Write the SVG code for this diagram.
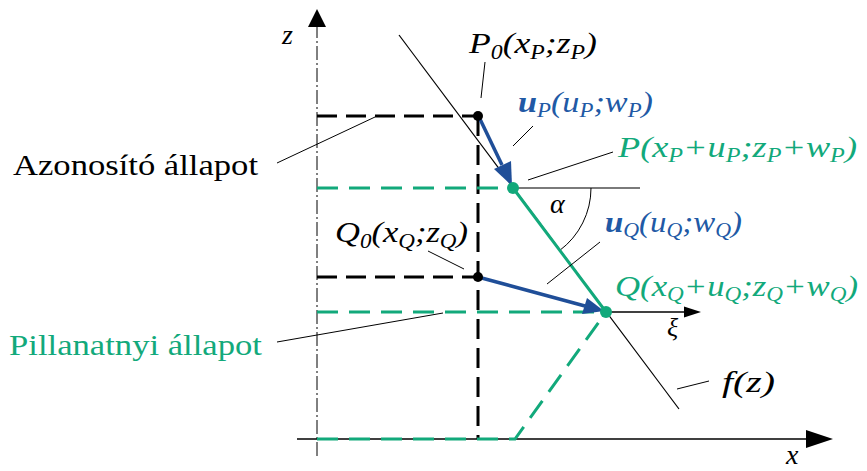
<svg xmlns="http://www.w3.org/2000/svg" width="867" height="471" viewBox="0 0 867 471">
<defs>
<style>
text{font-family:'Liberation Serif',serif}
.m{font-style:italic;font-size:30px}
.r{font-size:30px}
.s{font-size:20px}
.b{font-weight:bold}
.k{fill:#000}
.g{fill:#12a97b}
.bl{fill:#2159a5}
.ld{stroke:#000;stroke-width:1;fill:none}
.dk{stroke:#000;stroke-width:3;stroke-dasharray:20 9;fill:none}
.dg{stroke:#12a97b;stroke-width:3;stroke-dasharray:21 11;fill:none}
.ax{stroke:#000;stroke-width:1.5;fill:none}
.va{stroke:#1f4e98;stroke-width:3.5;fill:none}
</style>
</defs>
<rect width="867" height="471" fill="#fff"/>
<g id="connectors">
<line x1="317" y1="456" x2="317" y2="24" stroke="#000" stroke-width="1" stroke-dasharray="14 3 2 3"/>
<polygon points="317,9 308,27 326,27" fill="#000"/>
<line x1="297" y1="439" x2="808" y2="439" class="ax"/>
<polygon points="833,439 806,430 806,448" fill="#000"/>
<line x1="399" y1="35" x2="679" y2="409" stroke="#000" stroke-width="1.2"/>
<line x1="513" y1="188" x2="640" y2="188" stroke="#7a7a7a" stroke-width="2"/>
<line x1="606" y1="312" x2="686" y2="312" class="ax"/>
<polygon points="701,312 684,306.5 684,317.5" fill="#000"/>
<path d="M591,188 A78,78 0 0 1 559.6,250.5" class="ld"/>
<path d="M317,116 H478" class="dk"/>
<path d="M478,116 V439" class="dk"/>
<path d="M317,277 H478" class="dk"/>
<path d="M317,188 H513" class="dg"/>
<path d="M317,312 H606" class="dg"/>
<path d="M317,439 H515 L606,312" class="dg"/>
<line x1="513" y1="188" x2="606" y2="312" stroke="#12a97b" stroke-width="3"/>
<line x1="479" y1="117" x2="502" y2="165" class="va"/>
<polygon points="512,186 494,169 511,161" fill="#1f4e98"/>
<line x1="478" y1="277" x2="585" y2="306" class="va"/>
<polygon points="604,311 582,314 587,298" fill="#1f4e98"/>
<line x1="277" y1="163" x2="375" y2="117" class="ld"/>
<line x1="485" y1="62" x2="481" y2="98" class="ld"/>
<line x1="533" y1="126" x2="513" y2="146" class="ld"/>
<line x1="613" y1="152" x2="528" y2="180" class="ld"/>
<line x1="600" y1="242" x2="547" y2="284" class="ld"/>
<line x1="428" y1="251" x2="464" y2="269" class="ld"/>
<line x1="277" y1="342" x2="443" y2="313" class="ld"/>
<line x1="677" y1="389" x2="709" y2="381" class="ld"/>
</g>
<g id="P0">
<circle cx="478" cy="116" r="5" fill="#000"/>
<text x="469" y="53" font-family="Liberation Serif" class="m k" textLength="128" lengthAdjust="spacingAndGlyphs">P<tspan class="s" dy="6">0</tspan><tspan dy="-6">(x</tspan><tspan class="s" dy="6">P</tspan><tspan dy="-6">;z</tspan><tspan class="s" dy="6">P</tspan><tspan dy="-6">)</tspan></text>
</g>
<g id="uP">
<text x="518" y="112" font-family="Liberation Serif" class="m bl" textLength="135" lengthAdjust="spacingAndGlyphs"><tspan class="b">u</tspan><tspan class="s" dy="5">P</tspan><tspan dy="-5">(u</tspan><tspan class="s" dy="5">P</tspan><tspan dy="-5">;w</tspan><tspan class="s" dy="5">P</tspan><tspan dy="-5">)</tspan></text>
</g>
<g id="P">
<circle cx="513" cy="188" r="6" fill="#12a97b"/>
<text x="618" y="157" font-family="Liberation Serif" class="m g" textLength="239" lengthAdjust="spacingAndGlyphs">P(x<tspan class="s" dy="5">P</tspan><tspan dy="-5">+u</tspan><tspan class="s" dy="5">P</tspan><tspan dy="-5">;z</tspan><tspan class="s" dy="5">P</tspan><tspan dy="-5">+w</tspan><tspan class="s" dy="5">P</tspan><tspan dy="-5">)</tspan></text>
</g>
<g id="azonosito">
<text x="13" y="175" font-family="Liberation Serif" class="r k" textLength="245" lengthAdjust="spacingAndGlyphs">Azonosító állapot</text>
</g>
<g id="alpha">
<text x="550" y="213" font-family="Liberation Serif" class="m k" style="font-size:28px">α</text>
</g>
<g id="uQ">
<text x="605" y="232" font-family="Liberation Serif" class="m bl" textLength="137" lengthAdjust="spacingAndGlyphs"><tspan class="b">u</tspan><tspan class="s" dy="5">Q</tspan><tspan dy="-5">(u</tspan><tspan class="s" dy="5">Q</tspan><tspan dy="-5">;w</tspan><tspan class="s" dy="5">Q</tspan><tspan dy="-5">)</tspan></text>
</g>
<g id="Q0">
<circle cx="478" cy="277" r="5" fill="#000"/>
<text x="335" y="242" font-family="Liberation Serif" class="m k" textLength="133" lengthAdjust="spacingAndGlyphs">Q<tspan class="s" dy="6">0</tspan><tspan dy="-6">(x</tspan><tspan class="s" dy="6">Q</tspan><tspan dy="-6">;z</tspan><tspan class="s" dy="6">Q</tspan><tspan dy="-6">)</tspan></text>
</g>
<g id="Q">
<circle cx="606" cy="312" r="6" fill="#12a97b"/>
<text x="615" y="296" font-family="Liberation Serif" class="m g" textLength="243" lengthAdjust="spacingAndGlyphs">Q(x<tspan class="s" dy="5">Q</tspan><tspan dy="-5">+u</tspan><tspan class="s" dy="5">Q</tspan><tspan dy="-5">;z</tspan><tspan class="s" dy="5">Q</tspan><tspan dy="-5">+w</tspan><tspan class="s" dy="5">Q</tspan><tspan dy="-5">)</tspan></text>
</g>
<g id="pillanatnyi">
<text x="9" y="355" font-family="Liberation Serif" class="r g" textLength="253" lengthAdjust="spacingAndGlyphs">Pillanatnyi állapot</text>
</g>
<g id="xi">
<text x="667" y="336" font-family="Liberation Serif" class="m k" style="font-size:26px">ξ</text>
</g>
<g id="fz">
<text x="722" y="392" font-family="Liberation Serif" class="m k" textLength="53" lengthAdjust="spacingAndGlyphs">f(z)</text>
</g>
<g id="xlabel">
<text x="786" y="464" font-family="Liberation Serif" class="m k" style="font-size:28px">x</text>
</g>
<g id="zlabel">
<text x="282" y="44" font-family="Liberation Serif" class="m k" style="font-size:28px">z</text>
</g>
</svg>
